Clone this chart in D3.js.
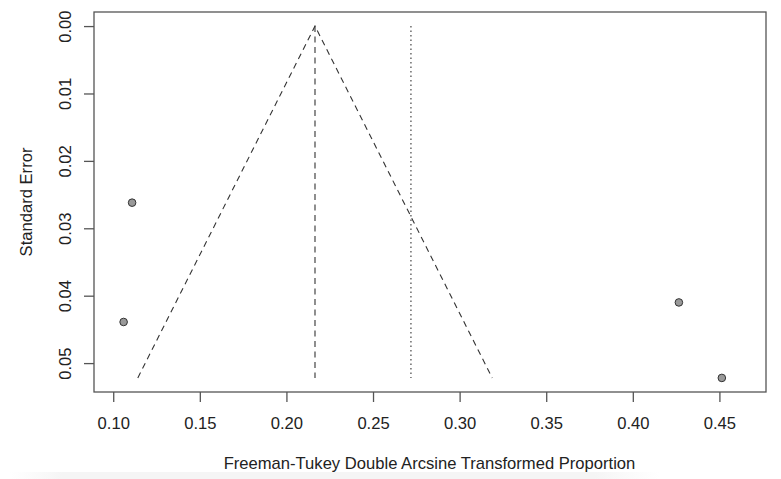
<!DOCTYPE html>
<html>
<head>
<meta charset="utf-8">
<script src="https://cdn.jsdelivr.net/npm/d3@7"></script>
<style>
  html, body { margin: 0; padding: 0; background: #fff; }
  svg { display: block; }
  text { font-family: "Liberation Sans", Arial, sans-serif; fill: #222; }
</style>
</head>
<body>
<svg id="chart" width="781" height="479"></svg>
<script>
// Study estimates: transformed proportion and its standard error
const studyEffect = [0.1109, 0.1060, 0.4266, 0.4514];
const studySE = [0.0262, 0.0439, 0.0410, 0.0522];

// Pooled estimate (funnel centre) and reference line
const pooledEstimate = 0.2165;
const referenceValue = 0.2719;
const zCrit = 1.96;

const xTicks = [0.10, 0.15, 0.20, 0.25, 0.30, 0.35, 0.40, 0.45];
const yTicks = [0.00, 0.01, 0.02, 0.03, 0.04, 0.05];

const xTitle = "Freeman-Tukey Double Arcsine Transformed Proportion";
const yTitle = "Standard Error";

const svg = d3.select("#chart");
const box = { left: 94, right: 766, top: 12, bottom: 392 };
const fontSize = "16.6px";

const maxSE = d3.max(studySE);
const x = d3.scaleLinear().domain([0.0889, 0.4769]).range([box.left, box.right]);
const y = d3.scaleLinear().domain([-maxSE * 0.04, maxSE * 1.04]).range([box.top, box.bottom]);

const axisColor = "#555";

// faint band near the bottom edge
const grad = svg.append("defs").append("linearGradient")
  .attr("id", "band").attr("x1", 0).attr("x2", 1);
grad.append("stop").attr("offset", "0%").attr("stop-color", "#f7f7f7").attr("stop-opacity", 0);
grad.append("stop").attr("offset", "8%").attr("stop-color", "#f5f5f5");
grad.append("stop").attr("offset", "90%").attr("stop-color", "#f5f5f5");
grad.append("stop").attr("offset", "100%").attr("stop-color", "#f7f7f7").attr("stop-opacity", 0);
svg.append("rect").attr("x", 10).attr("y", 472).attr("width", 650).attr("height", 7)
  .attr("fill", "url(#band)");

// plot box
svg.append("rect")
  .attr("x", box.left).attr("y", box.top)
  .attr("width", box.right - box.left).attr("height", box.bottom - box.top)
  .attr("fill", "none").attr("stroke", axisColor).attr("stroke-width", 1.3);

// x axis
const xAxis = d3.axisBottom(x).tickValues(xTicks).tickFormat(d3.format(".2f"))
  .tickSize(10).tickSizeOuter(0).tickPadding(0);
const gx = svg.append("g").attr("transform", `translate(0,${box.bottom})`).call(xAxis);
gx.select(".domain").remove();
gx.selectAll(".tick line").attr("stroke", axisColor).attr("stroke-width", 1.3);
gx.selectAll(".tick text")
  .attr("y", 31).attr("dy", null)
  .attr("dominant-baseline", "central")
  .style("font-size", fontSize).attr("fill", "#222");

// y axis with rotated labels
const yAxis = d3.axisLeft(y).tickValues(yTicks).tickFormat(d3.format(".2f"))
  .tickSize(10).tickSizeOuter(0);
const gy = svg.append("g").attr("transform", `translate(${box.left},0)`).call(yAxis);
gy.select(".domain").remove();
gy.selectAll(".tick line").attr("stroke", axisColor).attr("stroke-width", 1.3);
gy.selectAll(".tick text")
  .attr("x", null).attr("dy", null)
  .attr("transform", "translate(-29,0) rotate(-90)")
  .attr("text-anchor", "middle")
  .attr("dominant-baseline", "central")
  .style("font-size", fontSize).attr("fill", "#222");

// funnel (pseudo confidence region)
const funnel = [
  [pooledEstimate - zCrit * maxSE, maxSE],
  [pooledEstimate, 0],
  [pooledEstimate + zCrit * maxSE, maxSE]
];
const line = d3.line().x(d => x(d[0])).y(d => y(d[1]));
svg.append("path").datum(funnel).attr("d", line)
  .attr("fill", "none").attr("stroke", "#333").attr("stroke-width", 1.1)
  .attr("stroke-dasharray", "6,4.5");

// vertical line at pooled estimate
svg.append("path").datum([[pooledEstimate, 0], [pooledEstimate, maxSE]]).attr("d", line)
  .attr("fill", "none").attr("stroke", "#333").attr("stroke-width", 1.1)
  .attr("stroke-dasharray", "6,4.5");

// dotted reference line
svg.append("path").datum([[referenceValue, 0], [referenceValue, maxSE]]).attr("d", line)
  .attr("fill", "none").attr("stroke", "#333").attr("stroke-width", 1.1)
  .attr("stroke-dasharray", "1.5,3");

// study points
svg.append("g").selectAll("circle")
  .data(studyEffect.map((v, i) => [v, studySE[i]]))
  .join("circle")
  .attr("cx", d => x(d[0])).attr("cy", d => y(d[1]))
  .attr("r", 3.8)
  .attr("fill", "#999").attr("stroke", "#333").attr("stroke-width", 1);

// axis titles
svg.append("text")
  .attr("x", 429.5).attr("y", 463)
  .attr("text-anchor", "middle").attr("dominant-baseline", "central")
  .style("font-size", fontSize).text(xTitle);

svg.append("text")
  .attr("transform", `translate(26,${(box.top + box.bottom) / 2}) rotate(-90)`)
  .attr("text-anchor", "middle").attr("dominant-baseline", "central")
  .style("font-size", fontSize).text(yTitle);
</script>
</body>
</html>
